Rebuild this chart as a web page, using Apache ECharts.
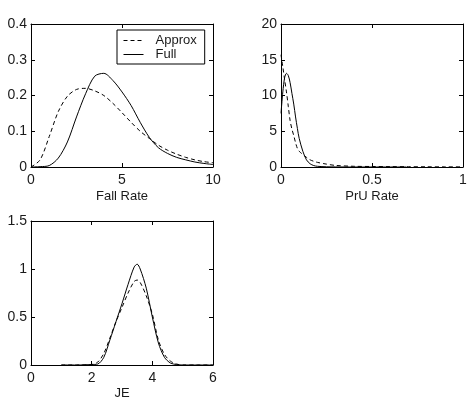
<!DOCTYPE html>
<html><head><meta charset="utf-8">
<script src="https://cdn.jsdelivr.net/npm/echarts@6/dist/echarts.min.js"></script>
<style>html,body{margin:0;padding:0;background:#fff}#c{width:473px;height:418px}</style>
</head><body><div id="c"></div>
<script>
// Panel 1: Fall Rate
const fallX = [0,0.5,1,1.5,2,2.5,3,3.5,4,4.5,5,5.5,6,6.5,7,7.5,8,8.5,9,9.5,10];
const fallFull = [0,0.001,0.004,0.025,0.07,0.14,0.205,0.254,0.262,0.242,0.21,0.172,0.125,0.083,0.054,0.038,0.027,0.02,0.014,0.01,0.007];
const fallApprox = [0,0.02,0.085,0.155,0.198,0.217,0.22,0.213,0.2,0.178,0.152,0.125,0.1,0.08,0.061,0.047,0.036,0.027,0.02,0.015,0.012];
// Panel 2: PrU Rate
const pruXFull = [0,0.01,0.02,0.03,0.04,0.05,0.06,0.07,0.08,0.09,0.1,0.12,0.14,0.16,0.18,0.2,0.25,0.3,0.4,0.5,0.6,0.69];
const pruFull = [7.5,10.5,12.5,13.1,12.8,11.8,10.3,8.8,7.0,5.4,4.0,2.2,1.0,0.45,0.2,0.1,0.03,0.01,0,0,0,0];
const pruXApprox = [0,0.01,0.02,0.03,0.04,0.05,0.06,0.07,0.08,0.09,0.1,0.12,0.14,0.16,0.18,0.2,0.25,0.3,0.4,0.5,0.6,0.7,0.8,0.9,1];
const pruApprox = [15.7,14.0,12.2,10.5,8.5,6.5,5.3,4.4,3.4,2.6,2.2,1.75,1.35,1.0,0.8,0.65,0.4,0.22,0.1,0.07,0.05,0.04,0.03,0.02,0.02];
// Panel 3: JE
const jeX = [1,1.5,2,2.2,2.4,2.6,2.8,3.0,3.2,3.4,3.5,3.6,3.8,4.0,4.2,4.4,4.6,4.8,5,5.5,6];
const jeFull = [0,0,0.005,0.01,0.08,0.26,0.45,0.64,0.84,1.02,1.05,1.0,0.8,0.5,0.23,0.08,0.02,0.005,0,0,0];
const jeApprox = [0,0,0.005,0.03,0.12,0.28,0.45,0.6,0.75,0.87,0.885,0.86,0.72,0.53,0.26,0.11,0.04,0.01,0,0,0];
// Axis ranges
const xRanges = [[0,10,5],[0,1,0.5],[0,6,2]];
const yRanges = [[0,0.4,0.1],[0,20,5],[0,1.5,0.5]];
const xNames = ['Fall Rate','PrU Rate','JE'];
const seriesNames = ['Approx','Full'];

const FONT = 'Liberation Sans, Arial, sans-serif';
const TXT = '#1a1a1a';
const DASH = [4,3];
const grids = [
  {left:31, top:24, width:182, height:143},
  {left:281, top:24, width:182, height:143},
  {left:31, top:221, width:182, height:144}
];
const xAxes = [], yAxes = [];
grids.forEach((g,i)=>{
  const [x0,x1,xi] = xRanges[i];
  const [y0,y1,yi] = yRanges[i];
  const common = {type:'value', gridIndex:i, splitLine:{show:false},
    axisLine:{show:true, onZero:false, lineStyle:{color:'#000', width:1}},
    axisTick:{show:true, inside:true, length:4, lineStyle:{color:'#000'}}};
  xAxes.push(Object.assign({}, common, {position:'bottom', min:x0, max:x1, interval:xi,
    name:xNames[i], nameLocation:'middle', nameGap: i===2?22:23,
    nameTextStyle:{fontFamily:FONT, fontSize:13, color:TXT},
    axisLabel:{fontFamily:FONT, fontSize:14, color:TXT, margin:6}}));
  xAxes.push(Object.assign({}, common, {position:'top', min:x0, max:x1, interval:xi,
    axisLabel:{show:false}}));
  yAxes.push(Object.assign({}, common, {position:'left', min:y0, max:y1, interval:yi,
    axisLabel:{fontFamily:FONT, fontSize:14, color:TXT, margin:4}}));
  yAxes.push(Object.assign({}, common, {position:'right', min:y0, max:y1, interval:yi,
    axisLabel:{show:false}}));
});
function mk(name, xs, ys, i, dashed){
  return {name:name, type:'line', xAxisIndex:2*i, yAxisIndex:2*i, symbol:'none',
    smooth:0.3, silent:true, animation:false,
    data: xs.map((x,k)=>[x, ys[k]]),
    itemStyle:{color:'#000'},
    lineStyle:{color:'#000', width:1, type: dashed ? DASH : 'solid'}};
}
const series = [
  mk(seriesNames[0], fallX, fallApprox, 0, true),
  mk(seriesNames[1], fallX, fallFull, 0, false),
  mk(seriesNames[0]+' ', pruXApprox, pruApprox, 1, true),
  mk(seriesNames[1]+' ', pruXFull, pruFull, 1, false),
  mk(seriesNames[0]+'  ', jeX, jeApprox, 2, true),
  mk(seriesNames[1]+'  ', jeX, jeFull, 2, false)
];
const chart = echarts.init(document.getElementById('c'), null, {renderer:'canvas'});
chart.setOption({
  animation:false,
  backgroundColor:'#fff',
  grid: grids,
  xAxis: xAxes,
  yAxis: yAxes,
  legend:{
    data:[
      {name:seriesNames[0], itemStyle:{opacity:0}, lineStyle:{color:'#000', width:1, type:DASH}},
      {name:seriesNames[1], itemStyle:{opacity:0}, lineStyle:{color:'#000', width:1, type:'solid'}}
    ],
    left:117, top:30, orient:'vertical', borderColor:'#000', borderWidth:1,
    backgroundColor:'#fff', padding:[4,8,3,6], itemWidth:20, itemHeight:11, itemGap:1,
    selectedMode:false,
    textStyle:{fontFamily:FONT, fontSize:13, color:TXT, padding:[0,0,0,7]}},
  graphic:[{type:'text', left:0, top:419, style:{text:'Fig. 4', font:'13px '+FONT, fill:TXT}}],
  series: series
});
</script></body></html>
